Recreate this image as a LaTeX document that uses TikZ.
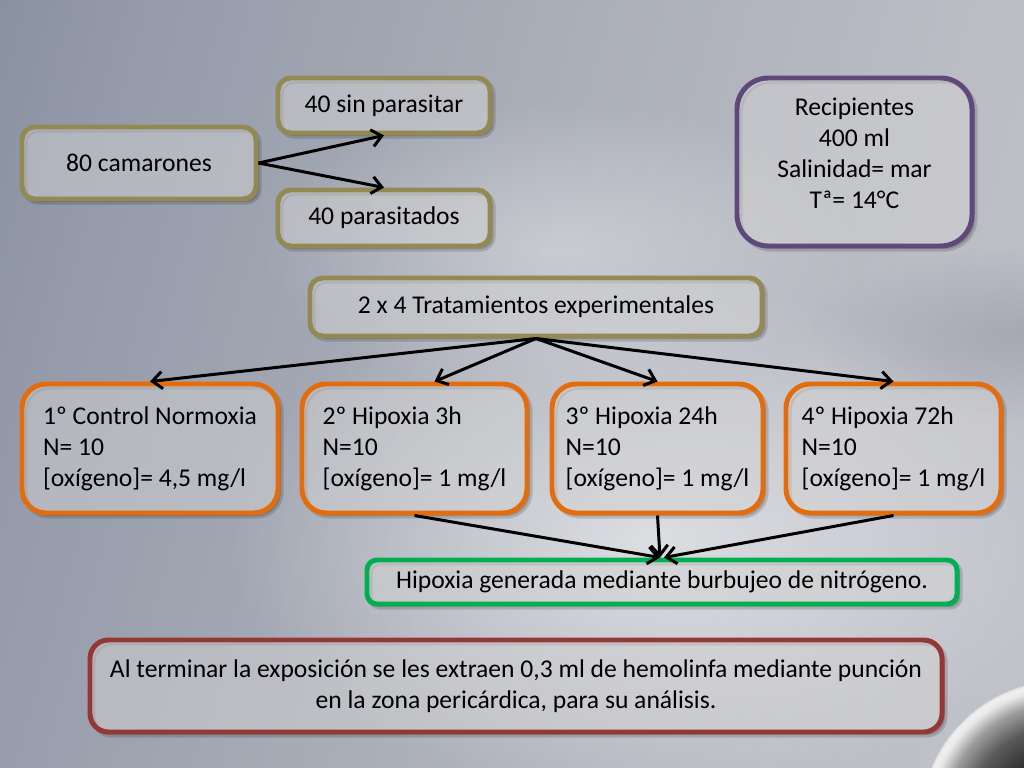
\documentclass[tikz,border=0pt]{standalone}
\usepackage{fontspec}
\setmainfont{Carlito}
\usetikzlibrary{arrows.meta,shadows,fadings}
\newcommand\pxu{0.703125pt}
\definecolor{bolive}{HTML}{938953}
\definecolor{borange}{HTML}{E46C0A}
\definecolor{bpurple}{HTML}{5F497A}
\definecolor{bgreen}{HTML}{00B050}
\definecolor{bred}{HTML}{953735}
\definecolor{bgA}{HTML}{E2E3E6}
\definecolor{bgB}{HTML}{B9BCC3}
\definecolor{bgC}{HTML}{959CAB}
\definecolor{bgD}{HTML}{7D8497}
\definecolor{bgE}{HTML}{868D9D}
\definecolor{bgF}{HTML}{959BAA}
\definecolor{bgG}{HTML}{AAAEB8}
\definecolor{bgH}{HTML}{BBBDC5}
\definecolor{bgI}{HTML}{C6C7CE}
\definecolor{bgJ}{HTML}{CFD0D5}
\definecolor{swA}{HTML}{151515}
\definecolor{swB}{HTML}{2A2A2A}
\definecolor{swC}{HTML}{5A5A5A}
\definecolor{swD}{HTML}{9E9E9E}
\definecolor{swE}{HTML}{E8E8E8}
\definecolor{swF}{HTML}{F0F0F0}
\definecolor{swG}{HTML}{D9DADD}
\definecolor{patch}{HTML}{6A7182}
\pgfdeclarehorizontalshading{bgband}{100bp}{color(0bp)=(bgA); color(8.7bp)=(bgB); color(16.5bp)=(bgC); color(19bp)=(bgD); color(23bp)=(bgE); color(31.4bp)=(bgF); color(48bp)=(bgG); color(64.5bp)=(bgH); color(82.6bp)=(bgI); color(100bp)=(bgJ)}
\pgfdeclareradialshading{swirl}{\pgfpoint{0bp}{0bp}}{color(0bp)=(swA); color(11bp)=(swB); color(17bp)=(swC); color(21bp)=(swD); color(23.5bp)=(swE); color(24.5bp)=(swF); color(25bp)=(swG)}
\tikzfading[name=softedge, inner color=transparent!0, outer color=transparent!100]
\tikzset{
  boxbase/.style={draw, line width=3.5pt, fill=white, fill opacity=0.42,
    draw opacity=1, text opacity=1, inner sep=0pt, align=center,
    font=\fontsize{18}{21.8}\selectfont,
    drop shadow={shadow xshift=2.2pt, shadow yshift=-2.2pt, opacity=0.15,
      fill=black, draw=black, line width=3.5pt}},
  olivebox/.style={boxbase, draw=bolive, rounded corners=9pt},
  purplebox/.style={boxbase, draw=bpurple, rounded corners=22pt},
  orangebox/.style={boxbase, draw=borange, rounded corners=17pt, align=left},
  greenbox/.style={boxbase, draw=bgreen, rounded corners=7pt},
  redbox/.style={boxbase, draw=bred, rounded corners=13pt},
  plaintext/.style={align=center, font=\fontsize{18}{21.8}\selectfont, inner sep=0pt},
  arr/.style={line width=2.1pt, -{Straight Barb[length=7pt,width=12pt]}}
}
\begin{document}
\begin{tikzpicture}[x=0.703125pt, y=-0.703125pt]
\useasboundingbox (0,0) rectangle (1024,768);
% background
\fill[bgJ] (0,0) rectangle (1024,768);
\begin{scope}
  \clip (0,0) rectangle (1024,768);
  \begin{scope}[transform canvas={shift={(125,384)}, rotate=-15.3}]
    \shade[shading=bgband] (-230,-800) rectangle (980,800);
  \end{scope}
  \fill[white, opacity=0.55, path fading=softedge] (650,540) ellipse [x radius=420*\pxu, y radius=260*\pxu];
  \fill[white, opacity=0.35, path fading=softedge] (560,250) ellipse [x radius=300*\pxu, y radius=150*\pxu];
  \fill[patch, opacity=0.3, path fading=softedge] (1030,335) ellipse [x radius=220*\pxu, y radius=90*\pxu];
  \shade[shading=swirl] (1062,822) circle [radius=142*\pxu];
\end{scope}

% boxes
\node[olivebox, minimum width=234*\pxu, minimum height=72*\pxu] (cam) at (139,163) {80 camarones};
\node[olivebox, minimum width=212*\pxu, minimum height=55*\pxu] (sin) at (384,105.5) {40 sin parasitar};
\node[olivebox, minimum width=212*\pxu, minimum height=56*\pxu] (par) at (384,218) {40 parasitados};
\node[purplebox, minimum width=235*\pxu, minimum height=168*\pxu] (rec) at (854.5,162) {};
\node[plaintext] (rectext) at (854.5,153) {Recipientes\\400 ml\\Salinidad= mar\\Tª= 14°C};
\node[olivebox, minimum width=452*\pxu, minimum height=58*\pxu] (tra) at (536,307) {2 x 4 Tratamientos experimentales};
\node[orangebox, minimum width=256*\pxu, minimum height=129*\pxu] (o1) at (150,448.5) {1º Control Normoxia\\N= 10\\{[oxígeno]}= 4,5 mg/l};
\node[orangebox, minimum width=225*\pxu, minimum height=129*\pxu] (o2) at (414.5,448.5) {2º Hipoxia 3h\\N=10\\{[oxígeno]}= 1 mg/l};
\node[orangebox, minimum width=211*\pxu, minimum height=129*\pxu] (o3) at (657.5,448.5) {3º Hipoxia 24h\\N=10\\{[oxígeno]}= 1 mg/l};
\node[orangebox, minimum width=215*\pxu, minimum height=129*\pxu] (o4) at (893.5,448.5) {4º Hipoxia 72h\\N=10\\{[oxígeno]}= 1 mg/l};
\node[greenbox, minimum width=590*\pxu, minimum height=44*\pxu] (gr) at (662,582) {Hipoxia generada mediante burbujeo de nitrógeno.};
\node[redbox, minimum width=852*\pxu, minimum height=92*\pxu] (rd) at (516,686) {Al terminar la exposición se les extraen 0,3 ml de hemolinfa mediante punción\\en la zona pericárdica, para su análisis.};

% connectors
\draw[arr] (cam.east) -- (sin.south);
\draw[arr] (cam.east) -- (par.north);
\draw[arr] (tra.south) -- (o1.north);
\draw[arr] (tra.south) -- ([xshift=20*\pxu]o2.north);
\draw[arr] (tra.south) -- (o3.north);
\draw[arr] (tra.south) -- (o4.north);
\draw[arr] (o2.south) -- ([xshift=-2*\pxu]gr.north);
\draw[arr] (o3.south) -- ([xshift=-2*\pxu]gr.north);
\draw[arr] (o4.south) -- ([xshift=2*\pxu]gr.north);
\end{tikzpicture}
\end{document}
